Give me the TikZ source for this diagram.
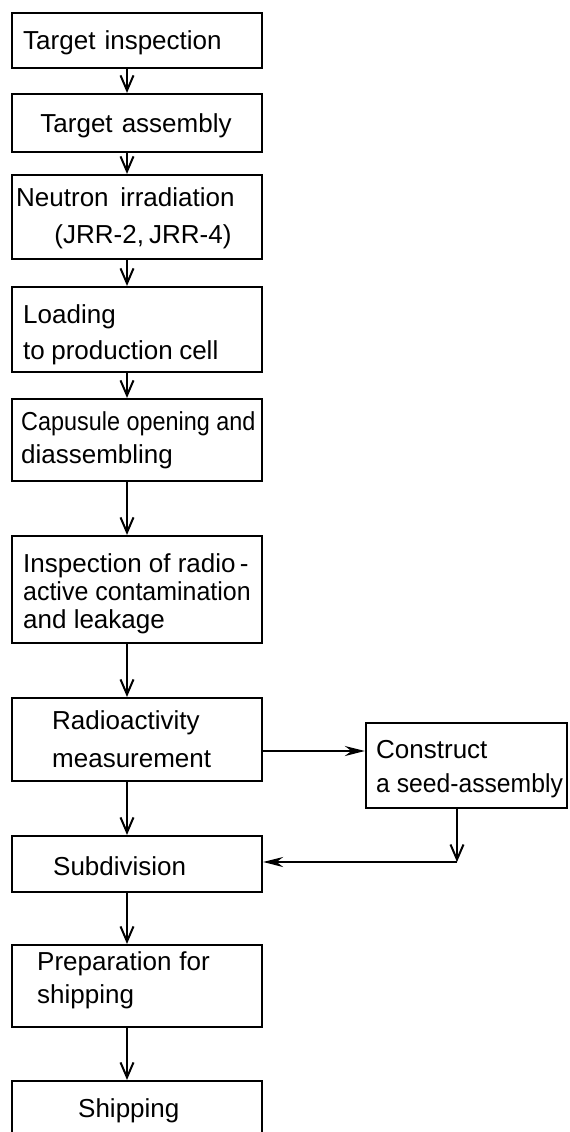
\documentclass[tikz,border=0pt]{standalone}
\usepackage{fontspec}
\setmainfont{Liberation Sans}
\usetikzlibrary{arrows.meta}
\begin{document}
\begin{tikzpicture}[x=1pt,y=-1pt,
  box/.style={draw, line width=2.2pt, inner sep=0pt, minimum width=250pt},
  lbl/.style={anchor=base west, inner sep=0pt, font=\fontsize{26}{30}\selectfont},
  clbl/.style={lbl, anchor=base},
  flow/.style={line width=2.2pt, -{Straight Barb[length=15pt,width=13pt,line width=2pt]}},
  hflow/.style={line width=2.2pt, -{Stealth[length=20pt,width=10pt]}}]
\useasboundingbox (0,0) rectangle (570,1132);
\fill[white] (0,0) rectangle (570,1132);
\begin{scope}
\clip (0,0) rectangle (570,1132);
% boxes
\node[box, minimum height=55pt]  (b1)  at (137,40.5) {};
\node[box, minimum height=58pt]  (b2)  at (137,123) {};
\node[box, minimum height=84pt]  (b3)  at (137,217) {};
\node[box, minimum height=85pt]  (b4)  at (137,329.5) {};
\node[box, minimum height=82pt]  (b5)  at (137,440) {};
\node[box, minimum height=107pt] (b6)  at (137,589.5) {};
\node[box, minimum height=83pt]  (b7)  at (137,739.5) {};
\node[box, minimum height=56pt]  (b8)  at (137,864) {};
\node[box, minimum height=82pt]  (b9)  at (137,986) {};
\node[box, minimum height=64pt]  (b10) at (137,1113) {};
\node[box, minimum height=85pt, minimum width=201pt] (b11) at (466.5,765.5) {};
\end{scope}
% texts
\node[lbl]  (t1)  at (23,50)   {Target\hspace{0.35em}inspection};
\node[clbl] (t2)  at (136,132) {Target\hspace{0.35em}assembly};
\node[lbl]  (t3a) at (16,206)  {Neutron\hspace{0.45em}irradiation};
\node[clbl] (t3b) at (143,243) {(JRR-2,\hspace{0.2em}JRR-4)};
\node[lbl]  (t4a) at (23,323)  {Loading};
\node[lbl]  (t4b) at (23,359)  {to\hspace{0.25em}production\hspace{0.25em}cell};
\node[lbl]  (t5a) at (21,430)  {\scalebox{0.9}[1]{Capusule opening and}};
\node[lbl]  (t5b) at (21,463)  {diassembling};
\node[lbl]  (t6a) at (23,572)  {Inspection of radio\,-};
\node[lbl]  (t6b) at (23,600)  {\scalebox{0.96}[1]{active contamination}};
\node[lbl]  (t6c) at (23,628)  {and leakage};
\node[lbl]  (t7a) at (52,729)  {Radioactivity};
\node[lbl]  (t7b) at (52,767)  {measurement};
\node[lbl]  (t8)  at (53,875)  {Subdivision};
\node[lbl]  (t9a) at (37,970)  {Preparation\hspace{0.3em}for};
\node[lbl]  (t9b) at (37,1003) {shipping};
\node[lbl]  (t10) at (78,1117) {Shipping};
\node[lbl]  (t11a) at (376,758) {Construct};
\node[lbl]  (t11b) at (376,792) {\scalebox{0.95}[1]{a seed-assembly}};
% connectors
\coordinate (ax) at (127,0);
\draw[flow] (b1.south -| ax) -- (b2.north -| ax);
\draw[flow] (b2.south -| ax) -- (b3.north -| ax);
\draw[flow] (b3.south -| ax) -- (b4.north -| ax);
\draw[flow] (b4.south -| ax) -- (b5.north -| ax);
\draw[flow] (b5.south -| ax) -- (b6.north -| ax);
\draw[flow] (b6.south -| ax) -- (b7.north -| ax);
\draw[flow] (b7.south -| ax) -- (b8.north -| ax);
\draw[flow] (b8.south -| ax) -- (b9.north -| ax);
\draw[flow] (b9.south -| ax) -- (b10.north -| ax);
\coordinate (ay) at (0,751);
\draw[hflow] (ay -| b7.east) -- (ay -| b11.west);
\coordinate (c1) at (457,862);
\draw[flow] (c1 |- b11.south) -- (c1);
\draw[hflow] (c1) -- (c1 -| b8.east);
\end{tikzpicture}
\end{document}
